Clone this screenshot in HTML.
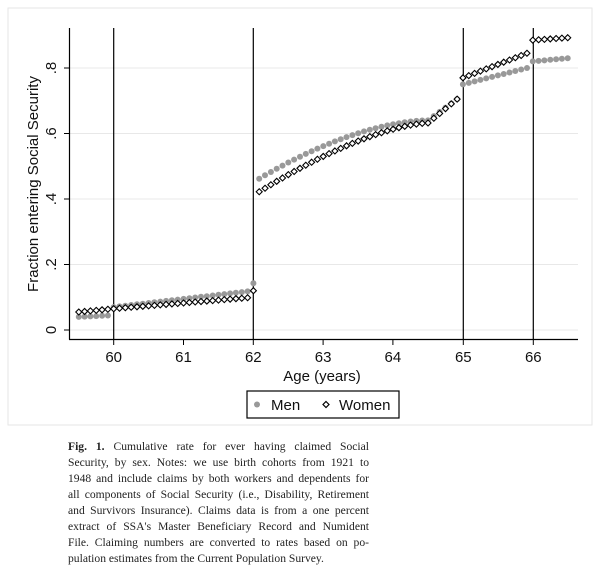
<!DOCTYPE html>
<html><head><meta charset="utf-8"><style>
body{margin:0;background:#fff;width:602px;height:574px;overflow:hidden;position:relative}
.cap{position:absolute;left:68px;width:301px;font-family:"Liberation Serif",serif;font-size:11.6px;color:#222;text-align:justify;text-align-last:justify;white-space:nowrap;line-height:14px}
.cap.last{text-align-last:left}
</style></head><body>
<svg id="s" width="602" height="574" style="position:absolute;left:0;top:0" font-family="Liberation Sans, sans-serif">
<rect x="8" y="8" width="584" height="417" fill="none" stroke="#e6e6e6"/>
<g stroke="#e8e8e8" stroke-width="1">
<line x1="70" x2="578" y1="330" y2="330"/><line x1="70" x2="578" y1="264.5" y2="264.5"/>
<line x1="70" x2="578" y1="199" y2="199"/><line x1="70" x2="578" y1="133.5" y2="133.5"/>
<line x1="70" x2="578" y1="68" y2="68"/></g>
<g stroke="#000" stroke-width="1.2">
<line x1="69.5" x2="69.5" y1="28" y2="339.5"/><line x1="69" x2="578" y1="339.5" y2="339.5"/>
<line x1="113.7" x2="113.7" y1="28" y2="339"/><line x1="253.3" x2="253.3" y1="28" y2="339"/>
<line x1="463.3" x2="463.3" y1="28" y2="339"/><line x1="533.3" x2="533.3" y1="28" y2="339"/>
</g>
<g stroke="#000"><line x1="64" x2="69" y1="330" y2="330"/><line x1="64" x2="69" y1="264.5" y2="264.5"/><line x1="64" x2="69" y1="199" y2="199"/><line x1="64" x2="69" y1="133.5" y2="133.5"/><line x1="64" x2="69" y1="68" y2="68"/>
<line y1="340" y2="345" x1="113.7" x2="113.7"/><line y1="340" y2="345" x1="183.5" x2="183.5"/><line y1="340" y2="345" x1="253.3" x2="253.3"/><line y1="340" y2="345" x1="323.1" x2="323.1"/><line y1="340" y2="345" x1="392.9" x2="392.9"/><line y1="340" y2="345" x1="463.3" x2="463.3"/><line y1="340" y2="345" x1="533.3" x2="533.3"/></g>
<g font-size="15" text-anchor="middle" fill="#111">
<text x="113.7" y="362">60</text><text x="183.5" y="362">61</text><text x="253.3" y="362">62</text><text x="323.1" y="362">63</text><text x="392.9" y="362">64</text><text x="463.3" y="362">65</text><text x="533.3" y="362">66</text>
<text x="322" y="381">Age (years)</text>
<g transform="rotate(-90)"><text x="-330" y="56">0</text><text x="-264.5" y="56">.2</text><text x="-199" y="56">.4</text><text x="-133.5" y="56">.6</text><text x="-68" y="56">.8</text>
<text x="-184" y="38">Fraction entering Social Security</text></g>
</g>
<g id="pts"></g>
<rect x="247" y="391" width="152" height="27" fill="#fff" stroke="#000" stroke-width="1.2"/>
<circle cx="257" cy="404.5" r="3" fill="#999"/>
<text x="271" y="410" font-size="15" fill="#111">Men</text>
<path d="M326 401.5 L329 404.5 L326 407.5 L323 404.5Z" fill="#fff" stroke="#000" stroke-width="1.2"/>
<text x="339" y="410" font-size="15" fill="#111">Women</text>
</svg>
<div class="cap" style="top:440px"><b>Fig. 1.</b> Cumulative rate for ever having claimed Social</div>
<div class="cap" style="top:456px">Security, by sex. Notes: we use birth cohorts from 1921 to</div>
<div class="cap" style="top:472px">1948 and include claims by both workers and dependents for</div>
<div class="cap" style="top:488px">all components of Social Security (i.e., Disability, Retirement</div>
<div class="cap" style="top:504px">and Survivors Insurance). Claims data is from a one percent</div>
<div class="cap" style="top:520px">extract of SSA's Master Beneficiary Record and Numident</div>
<div class="cap" style="top:536px">File. Claiming numbers are converted to rates based on po-</div>
<div class="cap last" style="top:552px">pulation estimates from the Current Population Survey.</div>
<script>
function X(a){return 113.7+(a-60)*69.85}
function Y(v){return 330-327.5*v}
function cl(t){return Math.max(0,Math.min(1,t))}
function men(a){
 if(a<59.99)return 0.04+(a-59.5)*0.01;
 if(a<61.99)return 0.07+(a-60)*0.025;
 if(a<62.04)return 0.143;
 if(a<64.45){var t=cl((a-62.083)/2.4);return 0.462+0.178*(1-Math.pow(1-t,1.7));}
 if(a<64.99)return 0.64+(a-64.5)/0.417*0.065;
 if(a<65.99)return 0.75+(a-65)/0.917*0.05;
 return 0.82+(a-66)*0.02;}
function wom(a){
 if(a<59.99)return 0.055+(a-59.5)*0.02;
 if(a<61.99)return 0.065+(a-60)*0.0175;
 if(a<62.04)return 0.12;
 if(a<64.45){var t=cl((a-62.083)/2.4);return 0.422+0.21*(1-Math.pow(1-t,1.5));}
 if(a<64.99)return 0.632+(a-64.5)/0.417*0.073;
 if(a<65.99)return 0.77+(a-65)/0.917*0.075;
 return 0.885+(a-66)*0.015;}
var g=document.getElementById('pts'),h='';
for(var i=0;i<=84;i++){var a=59.5+i/12;var x=X(a);
 h+='<circle cx="'+x.toFixed(1)+'" cy="'+Y(men(a)).toFixed(1)+'" r="3" fill="#999"/>';}
for(var i=0;i<=84;i++){var a=59.5+i/12;var x=X(a),y=Y(wom(a));
 h+='<path d="M'+x+' '+(y-3)+' L'+(x+3)+' '+y+' L'+x+' '+(y+3)+' L'+(x-3)+' '+y+'Z" fill="#fff" stroke="#000" stroke-width="1.1"/>';}
g.innerHTML=h;
</script>
</body></html>
